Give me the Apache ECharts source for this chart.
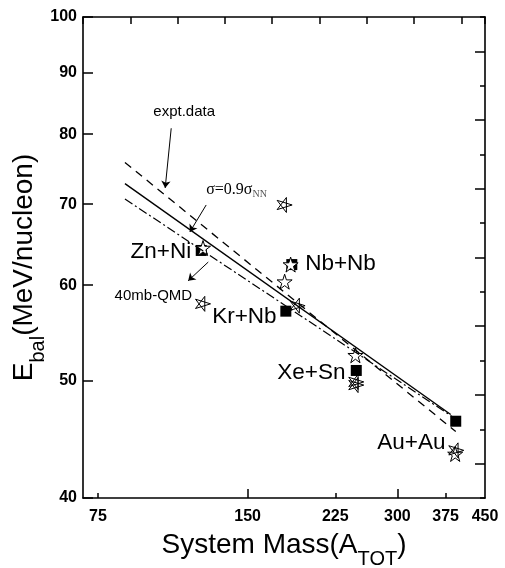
<!DOCTYPE html>
<html>
<head>
<meta charset="utf-8">
<title>Balance energy vs system mass</title>
<script src="https://cdn.jsdelivr.net/npm/echarts@6.0.0/dist/echarts.min.js"></script>
<style>
  html, body { margin: 0; padding: 0; background: #fff; }
  #chart { width: 505px; height: 568px; }
</style>
</head>
<body>
<div id="chart"></div>
<script>
// axis ticks
const xTicks = [75, 150, 225, 300, 375, 450];
const yTicks = [40, 50, 60, 70, 80, 90, 100];

// expt. data (filled squares)
const exptData = [[121, 64.1], [179, 57.1], [184, 62.4], [248, 51.0], [393, 46.3]];
// sigma = 0.9 sigma_NN (open stars)
const sigmaData = [[122, 64.4], [178, 60.4], [183, 62.4], [247, 52.5], [392, 43.5]];
// 40mb-QMD (line stars)
const qmdData = [[122, 57.9], [178, 69.9], [189, 57.7], [248, 49.9], [248, 49.6], [394, 43.8]];

// power law fits, start and end
const fitExpt = [[85, 75.8], [393, 45.4]];
const fitSigma = [[85, 72.8], [384, 46.9]];
const fitQmd = [[85, 70.7], [387, 46.7]];

// text notes: [x, y, text, align]
const notes = [
  [111.8, 83.4, 'expt.data', 'center'],
  [123.8, 71.9, 'σ=0.9σ{sub|NN}', 'left'],
  [115.5, 63.9, '{big|Zn+Ni}', 'right'],
  [116, 58.8, '40mb-QMD', 'right'],
  [127.3, 56.5, '{big|Kr+Nb}', 'left'],
  [195.8, 62.5, '{big|Nb+Nb}', 'left'],
  [172, 50.8, '{big|Xe+Sn}', 'left'],
  [273.3, 44.4, '{big|Au+Au}', 'left']
];
// arrows: [from, to]
const arrows = [
  [[105.3, 80.9], [102.4, 72.2]],
  [[123.8, 69.9], [114.8, 66.4]],
  [[125, 62.7], [113.9, 60.5]]
];

const STAR = 'path://M50 0L61.23 34.55L97.55 34.55L68.17 55.9L79.39 90.45L50 69.1L20.61 90.45L31.83 55.9L2.45 34.55L38.77 34.55Z';
const PENTA = 'path://M50 0L79.39 90.45L2.45 34.55L97.55 34.55L20.61 90.45Z';
const FONT = 'Liberation Sans, Arial, sans-serif';
const SERIF = 'Liberation Serif, Times New Roman, serif';

let chart = echarts.init(document.getElementById('chart'), null, { renderer: 'canvas' });

let frameLine = { show: true, lineStyle: { color: '#000', width: 1.6 } };
let noBorder = { textBorderWidth: 0, textBorderColor: 'transparent', textShadowBlur: 0 };

let option = {
  animation: false,
  backgroundColor: '#fff',
  grid: { left: 83, right: 20, top: 17, bottom: 70, outerBoundsMode: 'none' },
  xAxis: [
    {
      type: 'log', position: 'bottom', min: 70, max: 450,
      axisLine: frameLine,
      axisTick: { inside: true, length: 5, customValues: [75, 225, 375], lineStyle: { width: 1.5, color: '#000' } },
      axisLabel: { customValues: xTicks, margin: 11, color: '#000', fontFamily: FONT, fontWeight: 'bold', fontSize: 16 },
      splitLine: { show: false },
      name: '{m|System Mass(A}{s|TOT}{m|)}',
      nameLocation: 'middle', nameGap: 33, nameMoveOverlap: false,
      nameTextStyle: {
        rich: {
          m: { fontFamily: FONT, fontSize: 28, color: '#000', verticalAlign: 'top', lineHeight: 38 },
          s: { fontFamily: FONT, fontSize: 20, color: '#000', verticalAlign: 'bottom', lineHeight: 38 }
        }
      }
    },
    {
      type: 'log', position: 'bottom', min: 70, max: 450,
      axisLine: { show: false },
      axisTick: { inside: true, length: 9, customValues: [150, 300], lineStyle: { width: 1.5, color: '#000' } },
      axisLabel: { show: false }, splitLine: { show: false }
    },
    {
      type: 'value', position: 'top', min: 0, max: 8.5, interval: 1,
      axisLine: frameLine,
      axisTick: { inside: true, length: 7, lineStyle: { width: 1.5, color: '#000' } },
      axisLabel: { show: false }, splitLine: { show: false }
    }
  ],
  yAxis: [
    {
      type: 'log', position: 'left', min: 40, max: 100,
      axisLine: frameLine,
      axisTick: { inside: true, length: 10, customValues: yTicks, lineStyle: { width: 1.5, color: '#000' } },
      axisLabel: { customValues: yTicks, margin: 6, color: '#000', fontFamily: FONT, fontWeight: 'bold', fontSize: 16 },
      splitLine: { show: false },
      name: '{m|E}{s|bal}{e|(MeV/nucleon)}',
      nameLocation: 'middle', nameGap: 35, nameMoveOverlap: false,
      nameTextStyle: {
        rich: {
          m: { fontFamily: FONT, fontSize: 28, color: '#000', verticalAlign: 'top', lineHeight: 38 },
          s: { fontFamily: FONT, fontSize: 20, color: '#000', verticalAlign: 'bottom', lineHeight: 38 },
          e: { fontFamily: FONT, fontSize: 28, color: '#000', verticalAlign: 'top', lineHeight: 38, padding: [0, 20, 0, 0] }
        }
      }
    },
    {
      type: 'value', position: 'right', min: 0, max: 14, interval: 1,
      axisLine: frameLine,
      axisTick: { inside: true, length: 5, lineStyle: { width: 1.5, color: '#000' } },
      axisLabel: { show: false }, splitLine: { show: false }
    },
    {
      type: 'value', position: 'right', min: 0, max: 14,
      axisLine: { show: false },
      axisTick: { inside: true, length: 10, customValues: [1, 3, 5, 7, 9, 11, 13], lineStyle: { width: 1.5, color: '#000' } },
      axisLabel: { show: false }, splitLine: { show: false }
    }
  ],
  series: [
    {
      name: 'fit expt', type: 'line', data: fitExpt, symbol: 'none', silent: true,
      lineStyle: { color: '#000', width: 1.3, type: [8, 6] }
    },
    {
      name: 'fit sigma', type: 'line', data: fitSigma, symbol: 'none', silent: true,
      lineStyle: { color: '#000', width: 1.4 }
    },
    {
      name: 'fit qmd', type: 'line', data: fitQmd, symbol: 'none', silent: true,
      lineStyle: { color: '#000', width: 1.2, type: [9, 3, 2, 3] }
    },
    {
      name: 'expt', type: 'scatter', data: exptData, symbol: 'rect', symbolSize: 11,
      itemStyle: { color: '#000', opacity: 1 }
    },
    {
      name: 'sigma', type: 'scatter', data: sigmaData, symbol: STAR, symbolSize: 15,
      itemStyle: { color: '#fff', borderColor: '#000', borderWidth: 1, opacity: 1 }
    },
    {
      name: 'qmd', type: 'scatter', data: qmdData, symbol: PENTA, symbolSize: 15, symbolRotate: -90,
      itemStyle: { color: 'rgba(0,0,0,0)', borderColor: '#000', borderWidth: 1, opacity: 1 }
    },
    {
      name: 'notes', type: 'scatter', symbolSize: 0, silent: true,
      itemStyle: { color: '#000', opacity: 1 },
      data: notes.map((n, i) => ({
        value: [n[0], n[1]],
        label: Object.assign({
          show: true, position: 'inside', align: n[3], formatter: n[2],
          color: '#000',
          fontFamily: i === 1 ? SERIF : FONT,
          fontSize: i === 1 ? 16 : 15,
          rich: {
            big: Object.assign({ fontFamily: FONT, fontSize: 22.5, color: '#000' }, noBorder),
            sub: Object.assign({ fontFamily: SERIF, fontSize: 10, color: '#555', verticalAlign: 'bottom', padding: [8, 0, 0, 0] }, noBorder)
          }
        }, noBorder)
      })),
      markLine: {
        silent: true, symbol: ['none', 'arrow'], symbolSize: 7,
        label: { show: false },
        lineStyle: { color: '#000', width: 1, type: 'solid', opacity: 1 },
        data: arrows.map(a => [{ coord: a[0] }, { coord: a[1] }])
      }
    }
  ]
};

chart.setOption(option);
</script>
</body>
</html>
